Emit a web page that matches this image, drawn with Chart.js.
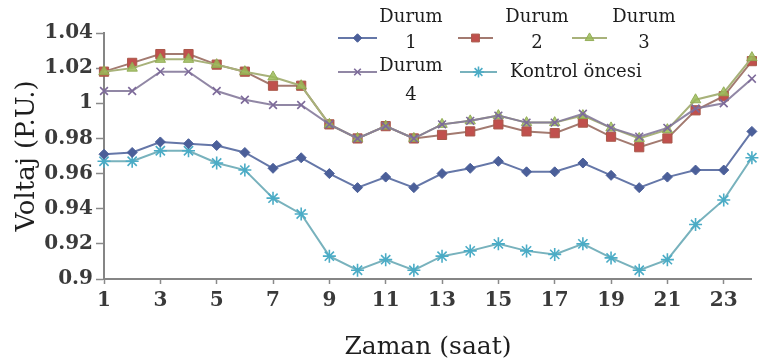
<!DOCTYPE html>
<html>
<head>
<meta charset="utf-8">
<script src="https://cdn.jsdelivr.net/npm/chart.js@4.4.1/dist/chart.umd.min.js"></script>
<style>
  html, body { margin: 0; padding: 0; background: #ffffff; }
  #c { display: block; }
</style>
</head>
<body>
<canvas id="c" width="760" height="363"></canvas>
<script>
// Hour of day
const hours = [1, 2, 3, 4, 5, 6, 7, 8, 9, 10, 11, 12, 13, 14, 15, 16, 17, 18, 19, 20, 21, 22, 23, 24];

// Bus voltage (p.u.) per scenario
const durum1 = [0.971, 0.972, 0.978, 0.977, 0.976, 0.972, 0.963, 0.969, 0.960, 0.952, 0.958, 0.952,
                0.960, 0.963, 0.967, 0.961, 0.961, 0.966, 0.959, 0.952, 0.958, 0.962, 0.962, 0.984];
const durum2 = [1.018, 1.023, 1.028, 1.028, 1.022, 1.018, 1.010, 1.010, 0.988, 0.980, 0.987, 0.980,
                0.982, 0.984, 0.988, 0.984, 0.983, 0.989, 0.981, 0.975, 0.980, 0.996, 1.004, 1.024];
const durum3 = [1.018, 1.020, 1.025, 1.025, 1.022, 1.018, 1.015, 1.010, 0.988, 0.980, 0.987, 0.980,
                0.988, 0.990, 0.993, 0.989, 0.989, 0.993, 0.986, 0.980, 0.985, 1.002, 1.006, 1.026];
const durum4 = [1.007, 1.007, 1.018, 1.018, 1.007, 1.002, 0.999, 0.999, 0.988, 0.980, 0.987, 0.980,
                0.988, 0.990, 0.993, 0.989, 0.989, 0.994, 0.986, 0.981, 0.986, 0.997, 1.000, 1.014];
const kontrolOncesi = [0.967, 0.967, 0.973, 0.973, 0.966, 0.962, 0.946, 0.937, 0.913, 0.905, 0.911, 0.905,
                       0.913, 0.916, 0.920, 0.916, 0.914, 0.920, 0.912, 0.905, 0.911, 0.931, 0.945, 0.969];

const seriesNames = ['Durum 1', 'Durum 2', 'Durum 3', 'Durum 4', 'Kontrol öncesi'];

// Axis ticks
const xTickValues = [1, 3, 5, 7, 9, 11, 13, 15, 17, 19, 21, 23];
const yTickValues = [0.9, 0.92, 0.94, 0.96, 0.98, 1, 1.02, 1.04];
const yTickLabels = ['0.9', '0.92', '0.94', '0.96', '0.98', '1', '1.02', '1.04'];

const SERIF = '"DejaVu Serif", "Liberation Serif", serif';

const toPoints = arr => hours.map((h, i) => ({ x: h, y: arr[i] }));

// Lower "order" is painted later (on top)
const datasets = [
  {
    label: seriesNames[0], data: toPoints(durum1), order: 3,
    borderColor: '#6577a8', borderWidth: 2,
    pointStyle: 'rectRot', pointRadius: 5, pointBackgroundColor: '#4b5f99',
    pointBorderColor: '#4b5f99', pointBorderWidth: 1
  },
  {
    label: seriesNames[1], data: toPoints(durum2), order: 2,
    borderColor: '#a37a70', borderWidth: 2,
    pointStyle: 'rect', pointRadius: 6.5, pointBackgroundColor: '#c0504d',
    pointBorderColor: '#a9584a', pointBorderWidth: 1
  },
  {
    label: seriesNames[2], data: toPoints(durum3), order: 1,
    borderColor: '#a8b27a', borderWidth: 2,
    pointStyle: 'triangle', pointRadius: 6, pointBackgroundColor: 'rgba(155,187,89,0.85)',
    pointBorderColor: 'rgba(143,170,80,0.9)', pointBorderWidth: 1
  },
  {
    label: seriesNames[3], data: toPoints(durum4), order: 0,
    borderColor: 'rgba(133,122,155,0.9)', borderWidth: 2,
    pointStyle: 'crossRot', pointRadius: 5.5, pointBackgroundColor: '#7d6a9a',
    pointBorderColor: '#7d6a9a', pointBorderWidth: 1.6
  },
  {
    label: seriesNames[4], data: toPoints(kontrolOncesi), order: 4,
    borderColor: '#78b2bd', borderWidth: 2,
    pointStyle: 'star', pointRadius: 6.5, pointBackgroundColor: '#4bacc6',
    pointBorderColor: '#4bacc6', pointBorderWidth: 1.6
  }
];

// Legend block placed inside the plot, upper right
const legendSlots = [
  { line: [338, 377], y: 38, textX: 411, textY: [17, 43], wrap: true },
  { line: [458, 493], y: 38, textX: 537, textY: [17, 43], wrap: true },
  { line: [572, 607], y: 38, textX: 644, textY: [17, 43], wrap: true },
  { line: [338, 377], y: 72, textX: 411, textY: [66, 95], wrap: true },
  { line: [460, 497], y: 72, textX: 510, textY: [72], wrap: false }
];

const inlineLegend = {
  id: 'inlineLegend',
  afterDraw(chart) {
    const ctx = chart.ctx;
    chart.data.datasets.forEach((ds, i) => {
      const s = legendSlots[i];
      ctx.save();
      ctx.strokeStyle = ds.borderColor;
      ctx.lineWidth = ds.borderWidth;
      ctx.beginPath();
      ctx.moveTo(s.line[0], s.y);
      ctx.lineTo(s.line[1], s.y);
      ctx.stroke();
      ctx.fillStyle = ds.pointBackgroundColor;
      ctx.strokeStyle = ds.pointBorderColor;
      ctx.lineWidth = ds.pointBorderWidth;
      Chart.helpers.drawPoint(ctx, {
        pointStyle: ds.pointStyle, radius: ds.pointRadius * 0.85,
        rotation: 0, borderWidth: ds.pointBorderWidth
      }, (s.line[0] + s.line[1]) / 2, s.y);
      ctx.fillStyle = '#1e1e1e';
      ctx.font = '18px ' + SERIF;
      ctx.textBaseline = 'middle';
      ctx.textAlign = s.wrap ? 'center' : 'left';
      const lines = s.wrap ? ds.label.split(' ') : [ds.label];
      lines.forEach((t, k) => ctx.fillText(t, s.textX, s.textY[k]));
      ctx.restore();
    });
  }
};

new Chart(document.getElementById('c'), {
  type: 'line',
  data: { datasets },
  plugins: [inlineLegend],
  options: {
    responsive: false,
    animation: false,
    devicePixelRatio: 1,
    layout: { padding: { left: 0, right: 3, top: 33, bottom: 0 } },
    elements: { line: { tension: 0 } },
    datasets: { line: { clip: false } },
    plugins: {
      legend: { display: false },
      tooltip: { enabled: false }
    },
    scales: {
      x: {
        type: 'linear', min: 1, max: 24,
        afterBuildTicks: s => { s.ticks = xTickValues.map(v => ({ value: v })); },
        afterFit: s => { s.height = 84; },
        ticks: {
          autoSkip: false, maxRotation: 0, padding: 5, color: '#3a3a3a',
          font: { family: SERIF, size: 20, weight: 'bold' },
          callback: v => String(v)
        },
        grid: { drawOnChartArea: false, drawTicks: true, tickLength: 5, tickColor: '#8a8a8a', tickWidth: 1.5 },
        border: { display: true, color: '#858585', width: 2 },
        title: {
          display: true, text: 'Zaman (saat)', color: '#1e1e1e',
          font: { family: SERIF, size: 25 }, padding: { top: 0, bottom: 1 }
        }
      },
      y: {
        min: 0.9, max: 1.04,
        afterBuildTicks: s => { s.ticks = yTickValues.map(v => ({ value: v })); },
        afterFit: s => { s.width = 104; },
        ticks: {
          padding: 3, color: '#3a3a3a',
          font: { family: SERIF, size: 20, weight: 'bold' },
          callback: (v, i) => yTickLabels[i]
        },
        grid: { drawOnChartArea: false, drawTicks: true, tickLength: 8, tickColor: '#8a8a8a', tickWidth: 1.5 },
        border: { display: true, color: '#858585', width: 2 },
        title: {
          display: true, text: 'Voltaj (P.U.)', color: '#1e1e1e',
          font: { family: SERIF, size: 26 }, padding: { top: 12, bottom: 0 }
        }
      }
    }
  }
});
</script>
</body>
</html>
